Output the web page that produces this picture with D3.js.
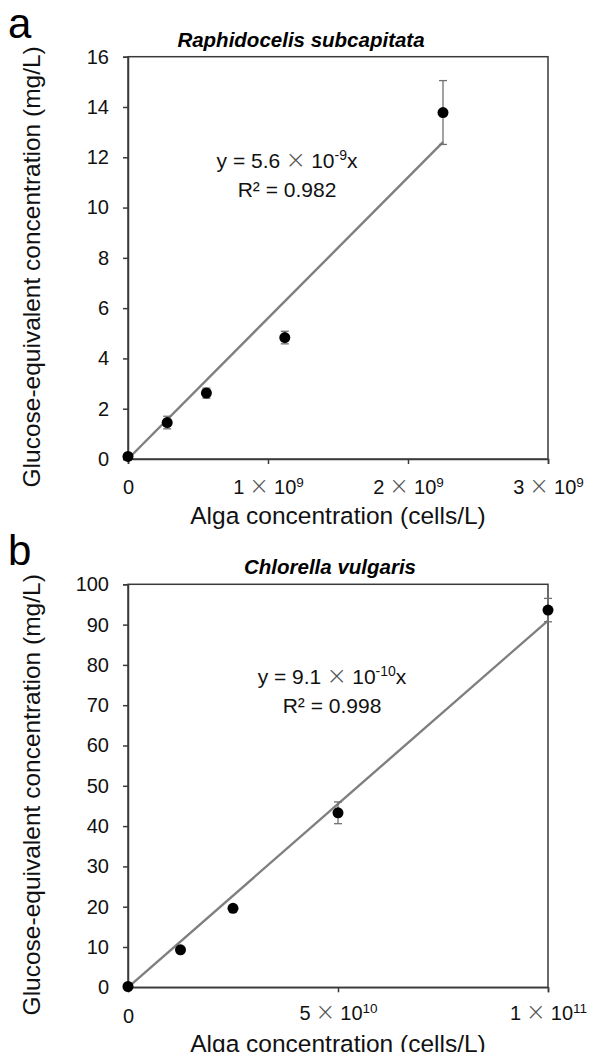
<!DOCTYPE html>
<html><head><meta charset="utf-8">
<script src="https://cdn.jsdelivr.net/npm/d3@7"></script>
<style>body{margin:0;background:#fff}svg{display:block}text{font-family:"Liberation Sans",Arial,sans-serif}</style>
</head><body>
<script>
// Panel a data
const xA = [0, 0.28e9, 0.56e9, 1.12e9, 2.25e9];
const yA = [0.1, 1.45, 2.62, 4.83, 13.78];
const eA = [0.05, 0.25, 0.2, 0.25, 1.27];
const slopeA = 5.6e-9;
const xTicksA = [0, 1e9, 2e9, 3e9];
const xTickMantA = ["0", "1", "2", "3"];
const xTickExpA = ["", "9", "9", "9"];
const yTicksA = [0, 2, 4, 6, 8, 10, 12, 14, 16];
// Panel b data
const xB = [0, 1.25e10, 2.5e10, 5e10, 1e11];
const yB = [0.2, 9.3, 19.6, 43.3, 93.6];
const eB = [0.3, 0.4, 0.4, 2.7, 2.9];
const slopeB = 9.1e-10;
const xTicksB = [0, 5e10, 1e11];
const xTickMantB = ["0", "5", "1"];
const xTickExpB = ["", "10", "11"];
const yTicksB = [0, 10, 20, 30, 40, 50, 60, 70, 80, 90, 100];

const W = 589, H = 1052;
const svg = d3.select("body").append("svg").attr("width", W).attr("height", H);

function panel(cfg) {
  const g = svg.append("g");
  const x = d3.scaleLinear().domain(cfg.xDomain).range([128, 548]);
  const y = d3.scaleLinear().domain(cfg.yDomain).range([cfg.bottom, cfg.top]);
  const axisColor = "#3a3a3a";
  g.append("rect").attr("x", 128).attr("y", cfg.top).attr("width", 420).attr("height", cfg.bottom - cfg.top)
    .attr("fill", "none").attr("stroke", axisColor).attr("stroke-width", 1.5);
  const ya = g.append("g").attr("transform", "translate(128,0)")
    .call(d3.axisLeft(y).tickValues(cfg.yTicks).tickSize(5).tickPadding(14).tickFormat(d3.format("d")));
  ya.select(".domain").attr("stroke", axisColor).attr("stroke-width", 1.5);
  ya.selectAll(".tick line").attr("stroke", axisColor).attr("stroke-width", 1.5);
  ya.selectAll(".tick text").attr("font-size", 20).attr("fill", "#111").attr("font-family", "Liberation Sans, Arial, sans-serif");
  const xa = g.append("g").attr("transform", `translate(0,${cfg.bottom})`)
    .call(d3.axisBottom(x).tickValues(cfg.xTicks).tickSize(5).tickFormat(""));
  xa.select(".domain").attr("stroke", axisColor).attr("stroke-width", 1.5);
  xa.selectAll(".tick line").attr("stroke", axisColor).attr("stroke-width", 1.5);
  xa.selectAll(".tick").each(function(d, i) {
    const t = d3.select(this).append("text").attr("y", cfg.xLabelDy + (i === 0 ? cfg.zeroDy : 0))
      .attr("text-anchor", "middle").attr("fill", "#111").attr("font-size", 20)
      .attr("font-family", "Liberation Sans, Arial, sans-serif");
    t.append("tspan").text(cfg.mant[i]);
    if (cfg.exps[i]) {
      t.append("tspan").text("\u2009\u00d7\u2009").attr("fill", "#555").attr("font-size", 24)
        .attr("font-family", "DejaVu Sans, sans-serif").attr("font-weight", 200);
      t.append("tspan").text("10");
      t.append("tspan").text(cfg.exps[i]).attr("font-size", 13.5).attr("dy", -7);
    }
  });
  const xmax = d3.max(cfg.xs);
  g.append("line").attr("x1", x(0)).attr("y1", y(0)).attr("x2", x(xmax)).attr("y2", y(cfg.slope * xmax))
    .attr("stroke", "#7f7f7f").attr("stroke-width", 2.4);
  const pts = cfg.xs.map((v, i) => ({x: v, y: cfg.ys[i], e: cfg.es[i]}));
  const eb = g.append("g").attr("stroke", "#707070").attr("stroke-width", 1.3);
  pts.forEach(p => {
    eb.append("line").attr("x1", x(p.x)).attr("x2", x(p.x)).attr("y1", y(p.y - p.e)).attr("y2", y(p.y + p.e));
    [p.y - p.e, p.y + p.e].forEach(v => eb.append("line").attr("x1", x(p.x) - 4).attr("x2", x(p.x) + 4).attr("y1", y(v)).attr("y2", y(v)));
  });
  g.selectAll("circle.pt").data(pts).join("circle").attr("class", "pt")
    .attr("cx", d => x(d.x)).attr("cy", d => y(d.y)).attr("r", 5.5).attr("fill", "#000");
  g.append("text").attr("x", cfg.titleX).attr("y", cfg.top - 10).attr("text-anchor", "middle")
    .attr("font-size", 20.5).attr("font-weight", "bold").attr("font-style", "italic").text(cfg.title);
  g.append("text").attr("x", 8).attr("y", cfg.top - 19).attr("font-size", 42).text(cfg.letter);
  const eq = g.append("text").attr("x", cfg.eqX).attr("y", cfg.eqY).attr("text-anchor", "middle").attr("font-size", 21).attr("fill", "#111");
  eq.append("tspan").text("y = " + cfg.coef);
  eq.append("tspan").text("\u2009\u00d7\u2009").attr("fill", "#555").attr("font-size", 25)
    .attr("font-family", "DejaVu Sans, sans-serif").attr("font-weight", 200);
  eq.append("tspan").text("10");
  eq.append("tspan").text(cfg.eqExp).attr("font-size", 14).attr("dy", -8);
  eq.append("tspan").text("x").attr("dy", 8);
  g.append("text").attr("x", cfg.eqX).attr("y", cfg.eqY + 29).attr("text-anchor", "middle").attr("font-size", 21).attr("fill", "#111")
    .text("R\u00b2 = " + cfg.r2);
  g.append("text").attr("x", 338).attr("y", cfg.bottom + 65).attr("text-anchor", "middle").attr("font-size", 24.5)
    .attr("fill", "#111").text("Alga concentration (cells/L)");
  g.append("text").attr("transform", `translate(40,${(cfg.top + cfg.bottom) / 2 + 9}) rotate(-90)`)
    .attr("text-anchor", "middle").attr("font-size", 24.5).attr("fill", "#111")
    .text("Glucose-equivalent concentration (mg/L)");
}

panel({xDomain: [0, 3e9], yDomain: [0, 16], top: 56.7, bottom: 459, xs: xA, ys: yA, es: eA, slope: slopeA,
  xTicks: xTicksA, mant: xTickMantA, exps: xTickExpA, yTicks: yTicksA, xLabelDy: 35, zeroDy: 0,
  title: "Raphidocelis subcapitata", titleX: 301, letter: "a", coef: "5.6", eqExp: "-9", r2: "0.982",
  eqX: 287, eqY: 168});
panel({xDomain: [0, 1e11], yDomain: [0, 100], top: 584.3, bottom: 987.3, xs: xB, ys: yB, es: eB, slope: slopeB,
  xTicks: xTicksB, mant: xTickMantB, exps: xTickExpB, yTicks: yTicksB, xLabelDy: 33, zeroDy: 3,
  title: "Chlorella vulgaris", titleX: 330, letter: "b", coef: "9.1", eqExp: "-10", r2: "0.998",
  eqX: 332, eqY: 684});
</script>
</body></html>
